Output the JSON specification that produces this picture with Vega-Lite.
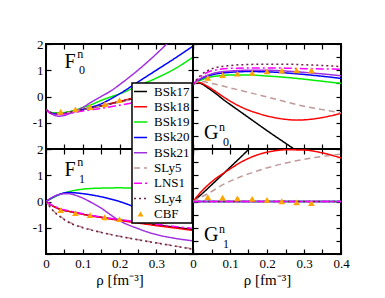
{
"$schema": "https://vega.github.io/schema/vega-lite/v6.json",
"padding": {"left": 31, "top": 37, "right": 5, "bottom": 5},
"columns": 2,
"spacing": 0,
"bounds": "flush",
"datasets": {
"F0": [
{"model":"BSk17","rho":0,"v":-0.5},{"model":"BSk17","rho":0.01,"v":-0.6},{"model":"BSk17","rho":0.02,"v":-0.64},{"model":"BSk17","rho":0.035,"v":-0.65},{"model":"BSk17","rho":0.05,"v":-0.62},{"model":"BSk17","rho":0.075,"v":-0.56},{"model":"BSk17","rho":0.1,"v":-0.5},{"model":"BSk17","rho":0.15,"v":-0.36},{"model":"BSk17","rho":0.2,"v":-0.2},{"model":"BSk17","rho":0.25,"v":-0.03},{"model":"BSk17","rho":0.3,"v":0.12},{"model":"BSk17","rho":0.35,"v":0.27},{"model":"BSk17","rho":0.4,"v":0.42},
{"model":"BSk18","rho":0,"v":-0.5},{"model":"BSk18","rho":0.01,"v":-0.6},{"model":"BSk18","rho":0.02,"v":-0.64},{"model":"BSk18","rho":0.035,"v":-0.65},{"model":"BSk18","rho":0.05,"v":-0.62},{"model":"BSk18","rho":0.075,"v":-0.56},{"model":"BSk18","rho":0.1,"v":-0.49},{"model":"BSk18","rho":0.15,"v":-0.35},{"model":"BSk18","rho":0.2,"v":-0.19},{"model":"BSk18","rho":0.25,"v":-0.02},{"model":"BSk18","rho":0.3,"v":0.14},{"model":"BSk18","rho":0.35,"v":0.3},{"model":"BSk18","rho":0.4,"v":0.45},
{"model":"BSk19","rho":0,"v":-0.5},{"model":"BSk19","rho":0.01,"v":-0.58},{"model":"BSk19","rho":0.02,"v":-0.62},{"model":"BSk19","rho":0.035,"v":-0.63},{"model":"BSk19","rho":0.05,"v":-0.61},{"model":"BSk19","rho":0.075,"v":-0.54},{"model":"BSk19","rho":0.1,"v":-0.42},{"model":"BSk19","rho":0.125,"v":-0.3},{"model":"BSk19","rho":0.15,"v":-0.15},{"model":"BSk19","rho":0.175,"v":-0.02},{"model":"BSk19","rho":0.2,"v":0.1},{"model":"BSk19","rho":0.25,"v":0.4},{"model":"BSk19","rho":0.3,"v":0.7},{"model":"BSk19","rho":0.35,"v":1.05},{"model":"BSk19","rho":0.4,"v":1.5},
{"model":"BSk20","rho":0,"v":-0.5},{"model":"BSk20","rho":0.01,"v":-0.6},{"model":"BSk20","rho":0.02,"v":-0.65},{"model":"BSk20","rho":0.035,"v":-0.67},{"model":"BSk20","rho":0.05,"v":-0.65},{"model":"BSk20","rho":0.075,"v":-0.58},{"model":"BSk20","rho":0.1,"v":-0.5},{"model":"BSk20","rho":0.125,"v":-0.4},{"model":"BSk20","rho":0.15,"v":-0.28},{"model":"BSk20","rho":0.175,"v":-0.1},{"model":"BSk20","rho":0.2,"v":0.1},{"model":"BSk20","rho":0.25,"v":0.55},{"model":"BSk20","rho":0.3,"v":1.0},{"model":"BSk20","rho":0.35,"v":1.45},{"model":"BSk20","rho":0.4,"v":1.92},
{"model":"BSk21","rho":0,"v":-0.5},{"model":"BSk21","rho":0.01,"v":-0.62},{"model":"BSk21","rho":0.02,"v":-0.7},{"model":"BSk21","rho":0.035,"v":-0.75},{"model":"BSk21","rho":0.05,"v":-0.72},{"model":"BSk21","rho":0.07,"v":-0.62},{"model":"BSk21","rho":0.09,"v":-0.5},{"model":"BSk21","rho":0.1,"v":-0.42},{"model":"BSk21","rho":0.125,"v":-0.2},{"model":"BSk21","rho":0.15,"v":0.0},{"model":"BSk21","rho":0.175,"v":0.2},{"model":"BSk21","rho":0.2,"v":0.45},{"model":"BSk21","rho":0.25,"v":1.0},{"model":"BSk21","rho":0.3,"v":1.62},{"model":"BSk21","rho":0.35,"v":2.3},{"model":"BSk21","rho":0.4,"v":3.0},
{"model":"SLy5","rho":0,"v":-0.5},{"model":"SLy5","rho":0.01,"v":-0.6},{"model":"SLy5","rho":0.02,"v":-0.65},{"model":"SLy5","rho":0.035,"v":-0.66},{"model":"SLy5","rho":0.05,"v":-0.64},{"model":"SLy5","rho":0.075,"v":-0.57},{"model":"SLy5","rho":0.1,"v":-0.5},{"model":"SLy5","rho":0.15,"v":-0.37},{"model":"SLy5","rho":0.2,"v":-0.22},{"model":"SLy5","rho":0.25,"v":-0.06},{"model":"SLy5","rho":0.3,"v":0.1},{"model":"SLy5","rho":0.35,"v":0.25},{"model":"SLy5","rho":0.4,"v":0.4},
{"model":"LNS1","rho":0,"v":-0.5},{"model":"LNS1","rho":0.01,"v":-0.62},{"model":"LNS1","rho":0.02,"v":-0.67},{"model":"LNS1","rho":0.035,"v":-0.69},{"model":"LNS1","rho":0.05,"v":-0.67},{"model":"LNS1","rho":0.075,"v":-0.62},{"model":"LNS1","rho":0.1,"v":-0.55},{"model":"LNS1","rho":0.15,"v":-0.45},{"model":"LNS1","rho":0.2,"v":-0.33},{"model":"LNS1","rho":0.25,"v":-0.2},{"model":"LNS1","rho":0.3,"v":-0.06},{"model":"LNS1","rho":0.35,"v":0.08},{"model":"LNS1","rho":0.4,"v":0.22},
{"model":"SLy4","rho":0,"v":-0.5},{"model":"SLy4","rho":0.01,"v":-0.6},{"model":"SLy4","rho":0.02,"v":-0.64},{"model":"SLy4","rho":0.035,"v":-0.65},{"model":"SLy4","rho":0.05,"v":-0.63},{"model":"SLy4","rho":0.075,"v":-0.56},{"model":"SLy4","rho":0.1,"v":-0.49},{"model":"SLy4","rho":0.15,"v":-0.35},{"model":"SLy4","rho":0.2,"v":-0.2},{"model":"SLy4","rho":0.25,"v":-0.04},{"model":"SLy4","rho":0.3,"v":0.11},{"model":"SLy4","rho":0.35,"v":0.26},{"model":"SLy4","rho":0.4,"v":0.41}
],
"F0c": [
{"model":"CBF","rho":0.04,"v":-0.58},{"model":"CBF","rho":0.08,"v":-0.49},{"model":"CBF","rho":0.12,"v":-0.4},{"model":"CBF","rho":0.16,"v":-0.3},{"model":"CBF","rho":0.2,"v":-0.14},{"model":"CBF","rho":0.24,"v":0.0},{"model":"CBF","rho":0.28,"v":0.15},{"model":"CBF","rho":0.32,"v":0.3}
],
"G0": [
{"model":"BSk17","rho":0,"v":0.45},{"model":"BSk17","rho":0.01,"v":0.52},{"model":"BSk17","rho":0.02,"v":0.5},{"model":"BSk17","rho":0.04,"v":0.33},{"model":"BSk17","rho":0.06,"v":0.13},{"model":"BSk17","rho":0.085,"v":-0.15},{"model":"BSk17","rho":0.1,"v":-0.3},{"model":"BSk17","rho":0.15,"v":-0.8},{"model":"BSk17","rho":0.2,"v":-1.3},{"model":"BSk17","rho":0.25,"v":-1.78},{"model":"BSk17","rho":0.3,"v":-2.25},{"model":"BSk17","rho":0.35,"v":-2.7},{"model":"BSk17","rho":0.4,"v":-3.2},
{"model":"BSk18","rho":0,"v":0.45},{"model":"BSk18","rho":0.01,"v":0.53},{"model":"BSk18","rho":0.02,"v":0.52},{"model":"BSk18","rho":0.04,"v":0.38},{"model":"BSk18","rho":0.06,"v":0.2},{"model":"BSk18","rho":0.085,"v":-0.04},{"model":"BSk18","rho":0.1,"v":-0.17},{"model":"BSk18","rho":0.13,"v":-0.4},{"model":"BSk18","rho":0.175,"v":-0.64},{"model":"BSk18","rho":0.2,"v":-0.74},{"model":"BSk18","rho":0.25,"v":-0.87},{"model":"BSk18","rho":0.28,"v":-0.9},{"model":"BSk18","rho":0.3,"v":-0.89},{"model":"BSk18","rho":0.35,"v":-0.8},{"model":"BSk18","rho":0.4,"v":-0.64},
{"model":"BSk19","rho":0,"v":0.45},{"model":"BSk19","rho":0.01,"v":0.55},{"model":"BSk19","rho":0.02,"v":0.62},{"model":"BSk19","rho":0.05,"v":0.75},{"model":"BSk19","rho":0.08,"v":0.8},{"model":"BSk19","rho":0.1,"v":0.82},{"model":"BSk19","rho":0.15,"v":0.82},{"model":"BSk19","rho":0.2,"v":0.78},{"model":"BSk19","rho":0.25,"v":0.73},{"model":"BSk19","rho":0.3,"v":0.66},{"model":"BSk19","rho":0.35,"v":0.58},{"model":"BSk19","rho":0.4,"v":0.5},
{"model":"BSk20","rho":0,"v":0.45},{"model":"BSk20","rho":0.01,"v":0.57},{"model":"BSk20","rho":0.02,"v":0.66},{"model":"BSk20","rho":0.05,"v":0.82},{"model":"BSk20","rho":0.1,"v":0.92},{"model":"BSk20","rho":0.15,"v":0.95},{"model":"BSk20","rho":0.2,"v":0.94},{"model":"BSk20","rho":0.25,"v":0.9},{"model":"BSk20","rho":0.3,"v":0.84},{"model":"BSk20","rho":0.35,"v":0.77},{"model":"BSk20","rho":0.4,"v":0.69},
{"model":"BSk21","rho":0,"v":0.45},{"model":"BSk21","rho":0.01,"v":0.58},{"model":"BSk21","rho":0.02,"v":0.68},{"model":"BSk21","rho":0.05,"v":0.86},{"model":"BSk21","rho":0.1,"v":0.97},{"model":"BSk21","rho":0.15,"v":1.0},{"model":"BSk21","rho":0.2,"v":1.0},{"model":"BSk21","rho":0.25,"v":0.97},{"model":"BSk21","rho":0.3,"v":0.92},{"model":"BSk21","rho":0.35,"v":0.86},{"model":"BSk21","rho":0.4,"v":0.79},
{"model":"SLy5","rho":0,"v":0.45},{"model":"SLy5","rho":0.01,"v":0.55},{"model":"SLy5","rho":0.02,"v":0.57},{"model":"SLy5","rho":0.05,"v":0.5},{"model":"SLy5","rho":0.1,"v":0.33},{"model":"SLy5","rho":0.15,"v":0.16},{"model":"SLy5","rho":0.2,"v":-0.02},{"model":"SLy5","rho":0.25,"v":-0.2},{"model":"SLy5","rho":0.3,"v":-0.37},{"model":"SLy5","rho":0.35,"v":-0.5},{"model":"SLy5","rho":0.4,"v":-0.62},
{"model":"LNS1","rho":0,"v":0.45},{"model":"LNS1","rho":0.01,"v":0.62},{"model":"LNS1","rho":0.02,"v":0.75},{"model":"LNS1","rho":0.05,"v":0.98},{"model":"LNS1","rho":0.1,"v":1.07},{"model":"LNS1","rho":0.15,"v":1.09},{"model":"LNS1","rho":0.2,"v":1.09},{"model":"LNS1","rho":0.25,"v":1.08},{"model":"LNS1","rho":0.3,"v":1.06},{"model":"LNS1","rho":0.35,"v":1.05},{"model":"LNS1","rho":0.4,"v":1.04},
{"model":"SLy4","rho":0,"v":0.45},{"model":"SLy4","rho":0.01,"v":0.65},{"model":"SLy4","rho":0.02,"v":0.8},{"model":"SLy4","rho":0.05,"v":1.05},{"model":"SLy4","rho":0.1,"v":1.18},{"model":"SLy4","rho":0.15,"v":1.22},{"model":"SLy4","rho":0.2,"v":1.23},{"model":"SLy4","rho":0.25,"v":1.23},{"model":"SLy4","rho":0.3,"v":1.21},{"model":"SLy4","rho":0.35,"v":1.18},{"model":"SLy4","rho":0.4,"v":1.14}
],
"G0c": [
{"model":"CBF","rho":0.04,"v":0.71},{"model":"CBF","rho":0.08,"v":0.82},{"model":"CBF","rho":0.12,"v":0.87},{"model":"CBF","rho":0.16,"v":0.9},{"model":"CBF","rho":0.2,"v":0.96},{"model":"CBF","rho":0.24,"v":0.99},{"model":"CBF","rho":0.28,"v":1.0},{"model":"CBF","rho":0.32,"v":1.0}
],
"F1": [
{"model":"BSk17","rho":0,"v":0},{"model":"BSk17","rho":0.02,"v":-0.18},{"model":"BSk17","rho":0.04,"v":-0.3},{"model":"BSk17","rho":0.06,"v":-0.37},{"model":"BSk17","rho":0.08,"v":-0.42},{"model":"BSk17","rho":0.1,"v":-0.48},{"model":"BSk17","rho":0.15,"v":-0.6},{"model":"BSk17","rho":0.2,"v":-0.7},{"model":"BSk17","rho":0.25,"v":-0.8},{"model":"BSk17","rho":0.3,"v":-0.89},{"model":"BSk17","rho":0.35,"v":-0.98},{"model":"BSk17","rho":0.4,"v":-1.07},
{"model":"BSk18","rho":0,"v":0},{"model":"BSk18","rho":0.02,"v":-0.18},{"model":"BSk18","rho":0.04,"v":-0.3},{"model":"BSk18","rho":0.06,"v":-0.37},{"model":"BSk18","rho":0.08,"v":-0.43},{"model":"BSk18","rho":0.1,"v":-0.49},{"model":"BSk18","rho":0.15,"v":-0.61},{"model":"BSk18","rho":0.2,"v":-0.72},{"model":"BSk18","rho":0.25,"v":-0.82},{"model":"BSk18","rho":0.3,"v":-0.92},{"model":"BSk18","rho":0.35,"v":-1.01},{"model":"BSk18","rho":0.4,"v":-1.1},
{"model":"BSk19","rho":0,"v":0},{"model":"BSk19","rho":0.02,"v":0.15},{"model":"BSk19","rho":0.04,"v":0.28},{"model":"BSk19","rho":0.07,"v":0.4},{"model":"BSk19","rho":0.1,"v":0.47},{"model":"BSk19","rho":0.15,"v":0.51},{"model":"BSk19","rho":0.2,"v":0.52},{"model":"BSk19","rho":0.25,"v":0.5},{"model":"BSk19","rho":0.3,"v":0.44},{"model":"BSk19","rho":0.35,"v":0.36},{"model":"BSk19","rho":0.4,"v":0.25},
{"model":"BSk20","rho":0,"v":0},{"model":"BSk20","rho":0.02,"v":0.17},{"model":"BSk20","rho":0.04,"v":0.29},{"model":"BSk20","rho":0.06,"v":0.34},{"model":"BSk20","rho":0.08,"v":0.33},{"model":"BSk20","rho":0.1,"v":0.3},{"model":"BSk20","rho":0.15,"v":0.18},{"model":"BSk20","rho":0.2,"v":0.0},{"model":"BSk20","rho":0.25,"v":-0.25},{"model":"BSk20","rho":0.3,"v":-0.48},{"model":"BSk20","rho":0.35,"v":-0.66},{"model":"BSk20","rho":0.4,"v":-0.82},
{"model":"BSk21","rho":0,"v":0},{"model":"BSk21","rho":0.02,"v":0.18},{"model":"BSk21","rho":0.04,"v":0.28},{"model":"BSk21","rho":0.06,"v":0.3},{"model":"BSk21","rho":0.08,"v":0.24},{"model":"BSk21","rho":0.1,"v":0.13},{"model":"BSk21","rho":0.125,"v":-0.05},{"model":"BSk21","rho":0.15,"v":-0.25},{"model":"BSk21","rho":0.175,"v":-0.5},{"model":"BSk21","rho":0.2,"v":-0.73},{"model":"BSk21","rho":0.25,"v":-1.03},{"model":"BSk21","rho":0.3,"v":-1.26},{"model":"BSk21","rho":0.35,"v":-1.4},{"model":"BSk21","rho":0.4,"v":-1.5},
{"model":"SLy5","rho":0,"v":0},{"model":"SLy5","rho":0.02,"v":-0.35},{"model":"SLy5","rho":0.04,"v":-0.58},{"model":"SLy5","rho":0.07,"v":-0.83},{"model":"SLy5","rho":0.1,"v":-0.98},{"model":"SLy5","rho":0.15,"v":-1.17},{"model":"SLy5","rho":0.2,"v":-1.32},{"model":"SLy5","rho":0.25,"v":-1.45},{"model":"SLy5","rho":0.3,"v":-1.57},{"model":"SLy5","rho":0.35,"v":-1.69},{"model":"SLy5","rho":0.4,"v":-1.8},
{"model":"LNS1","rho":0,"v":0},{"model":"LNS1","rho":0.02,"v":-0.17},{"model":"LNS1","rho":0.04,"v":-0.28},{"model":"LNS1","rho":0.06,"v":-0.35},{"model":"LNS1","rho":0.08,"v":-0.41},{"model":"LNS1","rho":0.1,"v":-0.47},{"model":"LNS1","rho":0.15,"v":-0.59},{"model":"LNS1","rho":0.2,"v":-0.69},{"model":"LNS1","rho":0.25,"v":-0.78},{"model":"LNS1","rho":0.3,"v":-0.87},{"model":"LNS1","rho":0.35,"v":-0.95},{"model":"LNS1","rho":0.4,"v":-1.03},
{"model":"SLy4","rho":0,"v":0},{"model":"SLy4","rho":0.02,"v":-0.36},{"model":"SLy4","rho":0.04,"v":-0.6},{"model":"SLy4","rho":0.07,"v":-0.85},{"model":"SLy4","rho":0.1,"v":-1.0},{"model":"SLy4","rho":0.15,"v":-1.18},{"model":"SLy4","rho":0.2,"v":-1.33},{"model":"SLy4","rho":0.25,"v":-1.46},{"model":"SLy4","rho":0.3,"v":-1.58},{"model":"SLy4","rho":0.35,"v":-1.7},{"model":"SLy4","rho":0.4,"v":-1.82}
],
"F1c": [
{"model":"CBF","rho":0.04,"v":-0.33},{"model":"CBF","rho":0.08,"v":-0.44},{"model":"CBF","rho":0.12,"v":-0.52},{"model":"CBF","rho":0.16,"v":-0.6},{"model":"CBF","rho":0.2,"v":-0.67},{"model":"CBF","rho":0.24,"v":-0.72},{"model":"CBF","rho":0.28,"v":-0.74},{"model":"CBF","rho":0.32,"v":-0.74}
],
"G1": [
{"model":"BSk17","rho":0,"v":0},{"model":"BSk17","rho":0.02,"v":0.24},{"model":"BSk17","rho":0.05,"v":0.63},{"model":"BSk17","rho":0.1,"v":1.3},{"model":"BSk17","rho":0.15,"v":1.98},{"model":"BSk17","rho":0.2,"v":2.7},
{"model":"BSk18","rho":0,"v":0},{"model":"BSk18","rho":0.02,"v":0.34},{"model":"BSk18","rho":0.04,"v":0.62},{"model":"BSk18","rho":0.06,"v":0.86},{"model":"BSk18","rho":0.085,"v":1.1},{"model":"BSk18","rho":0.11,"v":1.33},{"model":"BSk18","rho":0.13,"v":1.5},{"model":"BSk18","rho":0.175,"v":1.78},{"model":"BSk18","rho":0.22,"v":1.93},{"model":"BSk18","rho":0.25,"v":1.97},{"model":"BSk18","rho":0.3,"v":1.96},{"model":"BSk18","rho":0.35,"v":1.85},{"model":"BSk18","rho":0.4,"v":1.66},
{"model":"BSk19","rho":0,"v":0},{"model":"BSk19","rho":0.4,"v":0},
{"model":"BSk20","rho":0,"v":0},{"model":"BSk20","rho":0.4,"v":0},
{"model":"BSk21","rho":0,"v":0},{"model":"BSk21","rho":0.4,"v":0},
{"model":"SLy5","rho":0,"v":0},{"model":"SLy5","rho":0.02,"v":0.15},{"model":"SLy5","rho":0.04,"v":0.3},{"model":"SLy5","rho":0.085,"v":0.67},{"model":"SLy5","rho":0.13,"v":0.95},{"model":"SLy5","rho":0.175,"v":1.17},{"model":"SLy5","rho":0.22,"v":1.36},{"model":"SLy5","rho":0.265,"v":1.51},{"model":"SLy5","rho":0.33,"v":1.68},{"model":"SLy5","rho":0.4,"v":1.8},
{"model":"SLy4","rho":0,"v":0},{"model":"SLy4","rho":0.4,"v":0},
{"model":"LNS1","rho":0,"v":0},{"model":"LNS1","rho":0.4,"v":0}
],
"G1c": [
{"model":"CBF","rho":0.04,"v":0.17},{"model":"CBF","rho":0.08,"v":0.15},{"model":"CBF","rho":0.12,"v":0.12},{"model":"CBF","rho":0.16,"v":0.1},{"model":"CBF","rho":0.2,"v":0.06},{"model":"CBF","rho":0.24,"v":0.01},{"model":"CBF","rho":0.28,"v":-0.03},{"model":"CBF","rho":0.32,"v":-0.06}
]
},
"concat": [
{
"width": 147, "height": 105,
"resolve": {"axis": {"x": "independent", "y": "independent"}},
"layer": [
{"data": {"name": "F0"}, "mark": {"type": "line", "clip": true, "strokeWidth": 1.5, "interpolate": "monotone"},
"encoding": {
"x": {"field": "rho", "type": "quantitative", "scale": {"domain": [0, 0.4], "nice": false, "zero": false}, "axis": {"orient": "bottom", "values": [0,0.05,0.1,0.15,0.2,0.25,0.3,0.35,0.4], "labels": false, "title": null}},
"y": {"field": "v", "type": "quantitative", "scale": {"domain": [-2, 2], "nice": false}, "axis": {"orient": "left", "values": [-2,-1,0,1,2], "labelExpr": "datum.value == -2 ? '' : (datum.value < 0 ? '-' + abs(datum.value) : '' + datum.value)", "title": null}},
"color": {"field": "model", "type": "nominal", "scale": {"domain": ["BSk17","BSk18","BSk19","BSk20","BSk21","SLy5","LNS1","SLy4","CBF"], "range": ["#000000","#ff0000","#00ee00","#0000ff","#a030e0","#c09a9a","#ff00ff","#70204a","#ffa500"]},
  "legend": {"title": null, "orient": "none", "legendX": 86, "legendY": 39, "labelFontSize": 13, "labelFont": "Liberation Serif", "labelColor": "black", "symbolSize": 169, "symbolStrokeWidth": 1.5, "labelOffset": 7, "rowPadding": 1.3, "padding": 2, "fillColor": "white", "strokeColor": "black",
  "encode": {"symbols": {"update": {"fill": {"signal": "datum.value == 'CBF' ? '#ffa500' : 'transparent'"}, "size": {"signal": "datum.value == 'CBF' ? 36 : 169"}, "strokeWidth": {"signal": "datum.value == 'CBF' ? 0 : 1.5"}}}, "legend": {"update": {"strokeWidth": {"value": 1.5}}}}}},
"strokeDash": {"field": "model", "type": "nominal", "scale": {"domain": ["BSk17","BSk18","BSk19","BSk20","BSk21","SLy5","LNS1","SLy4","CBF"], "range": [[1,0],[1,0],[1,0],[1,0],[1,0],[6,4],[8,3,2,3],[2,3],[1,0]]}, "legend": {"title": null}}
}},
{"data": {"name": "F0c"}, "mark": {"type": "point", "shape": "triangle-up", "filled": true, "size": 45, "opacity": 1},
"encoding": {
"x": {"field": "rho", "type": "quantitative", "scale": {"domain": [0, 0.4], "nice": false, "zero": false}, "axis": {"orient": "top", "values": [0,0.05,0.1,0.15,0.2,0.25,0.3,0.35,0.4], "labels": false, "title": null}},
"y": {"field": "v", "type": "quantitative", "scale": {"domain": [-2, 2], "nice": false}, "axis": {"orient": "right", "values": [-2,-1,0,1,2], "labels": false, "title": null}},
"color": {"field": "model", "type": "nominal", "legend": {"title": null}},
"shape": {"field": "model", "type": "nominal", "scale": {"domain": ["BSk17","BSk18","BSk19","BSk20","BSk21","SLy5","LNS1","SLy4","CBF"], "range": ["stroke","stroke","stroke","stroke","stroke","stroke","stroke","stroke","triangle-up"]}, "legend": {"title": null}}
}},
{"data": {"values": [{"t": "F", "rho": 0.05, "v": 1.09}]}, "mark": {"type": "text", "font": "Liberation Serif", "fontSize": 20, "align": "left", "baseline": "alphabetic", "color": "black"},
"encoding": {"x": {"field": "rho", "type": "quantitative", "axis": null}, "y": {"field": "v", "type": "quantitative", "axis": null}, "text": {"field": "t"}}},
{"data": {"values": [{"t": "n", "rho": 0.085, "v": 1.47}, {"t": "0", "rho": 0.09, "v": 0.86}]}, "mark": {"type": "text", "font": "Liberation Serif", "fontSize": 12, "align": "left", "baseline": "alphabetic", "color": "black"},
"encoding": {"x": {"field": "rho", "type": "quantitative", "axis": null}, "y": {"field": "v", "type": "quantitative", "axis": null}, "text": {"field": "t"}}}
]
},
{
"width": 148, "height": 105,
"resolve": {"axis": {"x": "independent", "y": "independent"}},
"layer": [
{"data": {"name": "G0"}, "mark": {"type": "line", "clip": true, "strokeWidth": 1.5, "interpolate": "monotone"},
"encoding": {
"x": {"field": "rho", "type": "quantitative", "scale": {"domain": [0, 0.4], "nice": false, "zero": false}, "axis": {"orient": "bottom", "values": [0,0.05,0.1,0.15,0.2,0.25,0.3,0.35,0.4], "labels": false, "title": null}},
"y": {"field": "v", "type": "quantitative", "scale": {"domain": [-2, 2], "nice": false}, "axis": {"orient": "left", "values": [-2,-1.5,-1,-0.5,0,0.5,1,1.5,2], "labels": false, "title": null}},
"color": {"field": "model", "type": "nominal", "legend": {"title": null}},
"strokeDash": {"field": "model", "type": "nominal", "legend": {"title": null}}
}},
{"data": {"name": "G0c"}, "mark": {"type": "point", "shape": "triangle-up", "filled": true, "size": 45, "opacity": 1},
"encoding": {
"x": {"field": "rho", "type": "quantitative", "scale": {"domain": [0, 0.4], "nice": false, "zero": false}, "axis": {"orient": "top", "values": [0,0.05,0.1,0.15,0.2,0.25,0.3,0.35,0.4], "labels": false, "title": null}},
"y": {"field": "v", "type": "quantitative", "scale": {"domain": [-2, 2], "nice": false}, "axis": {"orient": "right", "values": [-2,-1.5,-1,-0.5,0,0.5,1,1.5,2], "labels": false, "title": null}},
"color": {"field": "model", "type": "nominal", "legend": {"title": null}},
"shape": {"field": "model", "type": "nominal", "legend": {"title": null}}
}},
{"data": {"values": [{"t": "G", "rho": 0.03, "v": -1.62}]}, "mark": {"type": "text", "font": "Liberation Serif", "fontSize": 20, "align": "left", "baseline": "alphabetic", "color": "black"},
"encoding": {"x": {"field": "rho", "type": "quantitative", "axis": null}, "y": {"field": "v", "type": "quantitative", "axis": null}, "text": {"field": "t"}}},
{"data": {"values": [{"t": "n", "rho": 0.07, "v": -1.31}, {"t": "0", "rho": 0.081, "v": -1.89}]}, "mark": {"type": "text", "font": "Liberation Serif", "fontSize": 12, "align": "left", "baseline": "alphabetic", "color": "black"},
"encoding": {"x": {"field": "rho", "type": "quantitative", "axis": null}, "y": {"field": "v", "type": "quantitative", "axis": null}, "text": {"field": "t"}}}
]
},
{
"width": 147, "height": 105,
"resolve": {"axis": {"x": "independent", "y": "independent"}},
"layer": [
{"data": {"name": "F1"}, "mark": {"type": "line", "clip": true, "strokeWidth": 1.5, "interpolate": "monotone"},
"encoding": {
"x": {"field": "rho", "type": "quantitative", "scale": {"domain": [0, 0.4], "nice": false, "zero": false}, "axis": {"orient": "bottom", "values": [0,0.05,0.1,0.15,0.2,0.25,0.3,0.35,0.4], "labelExpr": "indexof(['0','0.1','0.2','0.3'], format(datum.value, '.2~f')) >= 0 ? format(datum.value, '.1~f') : ''", "title": "ρ [fm⁻³]"}},
"y": {"field": "v", "type": "quantitative", "scale": {"domain": [-2, 2], "nice": false}, "axis": {"orient": "left", "values": [-2,-1,0,1,2], "labelExpr": "datum.value == -2 ? '' : (datum.value < 0 ? '-' + abs(datum.value) : '' + datum.value)", "title": null}},
"color": {"field": "model", "type": "nominal", "legend": {"title": null}},
"strokeDash": {"field": "model", "type": "nominal", "legend": {"title": null}}
}},
{"data": {"name": "F1c"}, "mark": {"type": "point", "shape": "triangle-up", "filled": true, "size": 45, "opacity": 1},
"encoding": {
"x": {"field": "rho", "type": "quantitative", "scale": {"domain": [0, 0.4], "nice": false, "zero": false}, "axis": {"orient": "top", "values": [0,0.05,0.1,0.15,0.2,0.25,0.3,0.35,0.4], "labels": false, "title": null}},
"y": {"field": "v", "type": "quantitative", "scale": {"domain": [-2, 2], "nice": false}, "axis": {"orient": "right", "values": [-2,-1,0,1,2], "labels": false, "title": null}},
"color": {"field": "model", "type": "nominal", "legend": {"title": null}},
"shape": {"field": "model", "type": "nominal", "legend": {"title": null}}
}},
{"data": {"values": [{"t": "F", "rho": 0.05, "v": 0.97}]}, "mark": {"type": "text", "font": "Liberation Serif", "fontSize": 20, "align": "left", "baseline": "alphabetic", "color": "black"},
"encoding": {"x": {"field": "rho", "type": "quantitative", "axis": null}, "y": {"field": "v", "type": "quantitative", "axis": null}, "text": {"field": "t"}}},
{"data": {"values": [{"t": "n", "rho": 0.085, "v": 1.35}, {"t": "1", "rho": 0.09, "v": 0.7}]}, "mark": {"type": "text", "font": "Liberation Serif", "fontSize": 12, "align": "left", "baseline": "alphabetic", "color": "black"},
"encoding": {"x": {"field": "rho", "type": "quantitative", "axis": null}, "y": {"field": "v", "type": "quantitative", "axis": null}, "text": {"field": "t"}}}
]
},
{
"width": 148, "height": 105,
"resolve": {"axis": {"x": "independent", "y": "independent"}},
"layer": [
{"data": {"name": "G1"}, "mark": {"type": "line", "clip": true, "strokeWidth": 1.5, "interpolate": "monotone"},
"encoding": {
"x": {"field": "rho", "type": "quantitative", "scale": {"domain": [0, 0.4], "nice": false, "zero": false}, "axis": {"orient": "bottom", "values": [0,0.05,0.1,0.15,0.2,0.25,0.3,0.35,0.4], "labelExpr": "indexof(['0','0.1','0.2','0.3','0.4'], format(datum.value, '.2~f')) >= 0 ? format(datum.value, '.1~f') : ''", "title": "ρ [fm⁻³]"}},
"y": {"field": "v", "type": "quantitative", "scale": {"domain": [-2, 2], "nice": false}, "axis": {"orient": "left", "values": [-2,-1.5,-1,-0.5,0,0.5,1,1.5,2], "labels": false, "title": null}},
"color": {"field": "model", "type": "nominal", "legend": {"title": null}},
"strokeDash": {"field": "model", "type": "nominal", "legend": {"title": null}}
}},
{"data": {"name": "G1c"}, "mark": {"type": "point", "shape": "triangle-up", "filled": true, "size": 45, "opacity": 1},
"encoding": {
"x": {"field": "rho", "type": "quantitative", "scale": {"domain": [0, 0.4], "nice": false, "zero": false}, "axis": {"orient": "top", "values": [0,0.05,0.1,0.15,0.2,0.25,0.3,0.35,0.4], "labels": false, "title": null}},
"y": {"field": "v", "type": "quantitative", "scale": {"domain": [-2, 2], "nice": false}, "axis": {"orient": "right", "values": [-2,-1.5,-1,-0.5,0,0.5,1,1.5,2], "labels": false, "title": null}},
"color": {"field": "model", "type": "nominal", "legend": {"title": null}},
"shape": {"field": "model", "type": "nominal", "legend": {"title": null}}
}},
{"data": {"values": [{"t": "G", "rho": 0.03, "v": -1.5}]}, "mark": {"type": "text", "font": "Liberation Serif", "fontSize": 20, "align": "left", "baseline": "alphabetic", "color": "black"},
"encoding": {"x": {"field": "rho", "type": "quantitative", "axis": null}, "y": {"field": "v", "type": "quantitative", "axis": null}, "text": {"field": "t"}}},
{"data": {"values": [{"t": "n", "rho": 0.07, "v": -1.2}, {"t": "1", "rho": 0.081, "v": -1.77}]}, "mark": {"type": "text", "font": "Liberation Serif", "fontSize": 12, "align": "left", "baseline": "alphabetic", "color": "black"},
"encoding": {"x": {"field": "rho", "type": "quantitative", "axis": null}, "y": {"field": "v", "type": "quantitative", "axis": null}, "text": {"field": "t"}}}
]
}
],
"config": {
"font": "Liberation Serif",
"view": {"stroke": "black", "strokeWidth": 2},
"axis": {"grid": false, "domain": false, "tickSize": -5, "tickWidth": 1.2, "tickColor": "black", "labelFont": "Liberation Serif", "labelFontSize": 13, "labelColor": "black", "labelPadding": 8, "labelFlush": false, "labelOverlap": false, "labelAngle": 0, "titleFont": "Liberation Serif", "titleFontSize": 15, "titleFontWeight": "normal", "titleColor": "black", "titlePadding": 2},
"legend": {"orient": "none", "symbolType": "stroke"}
}
}
